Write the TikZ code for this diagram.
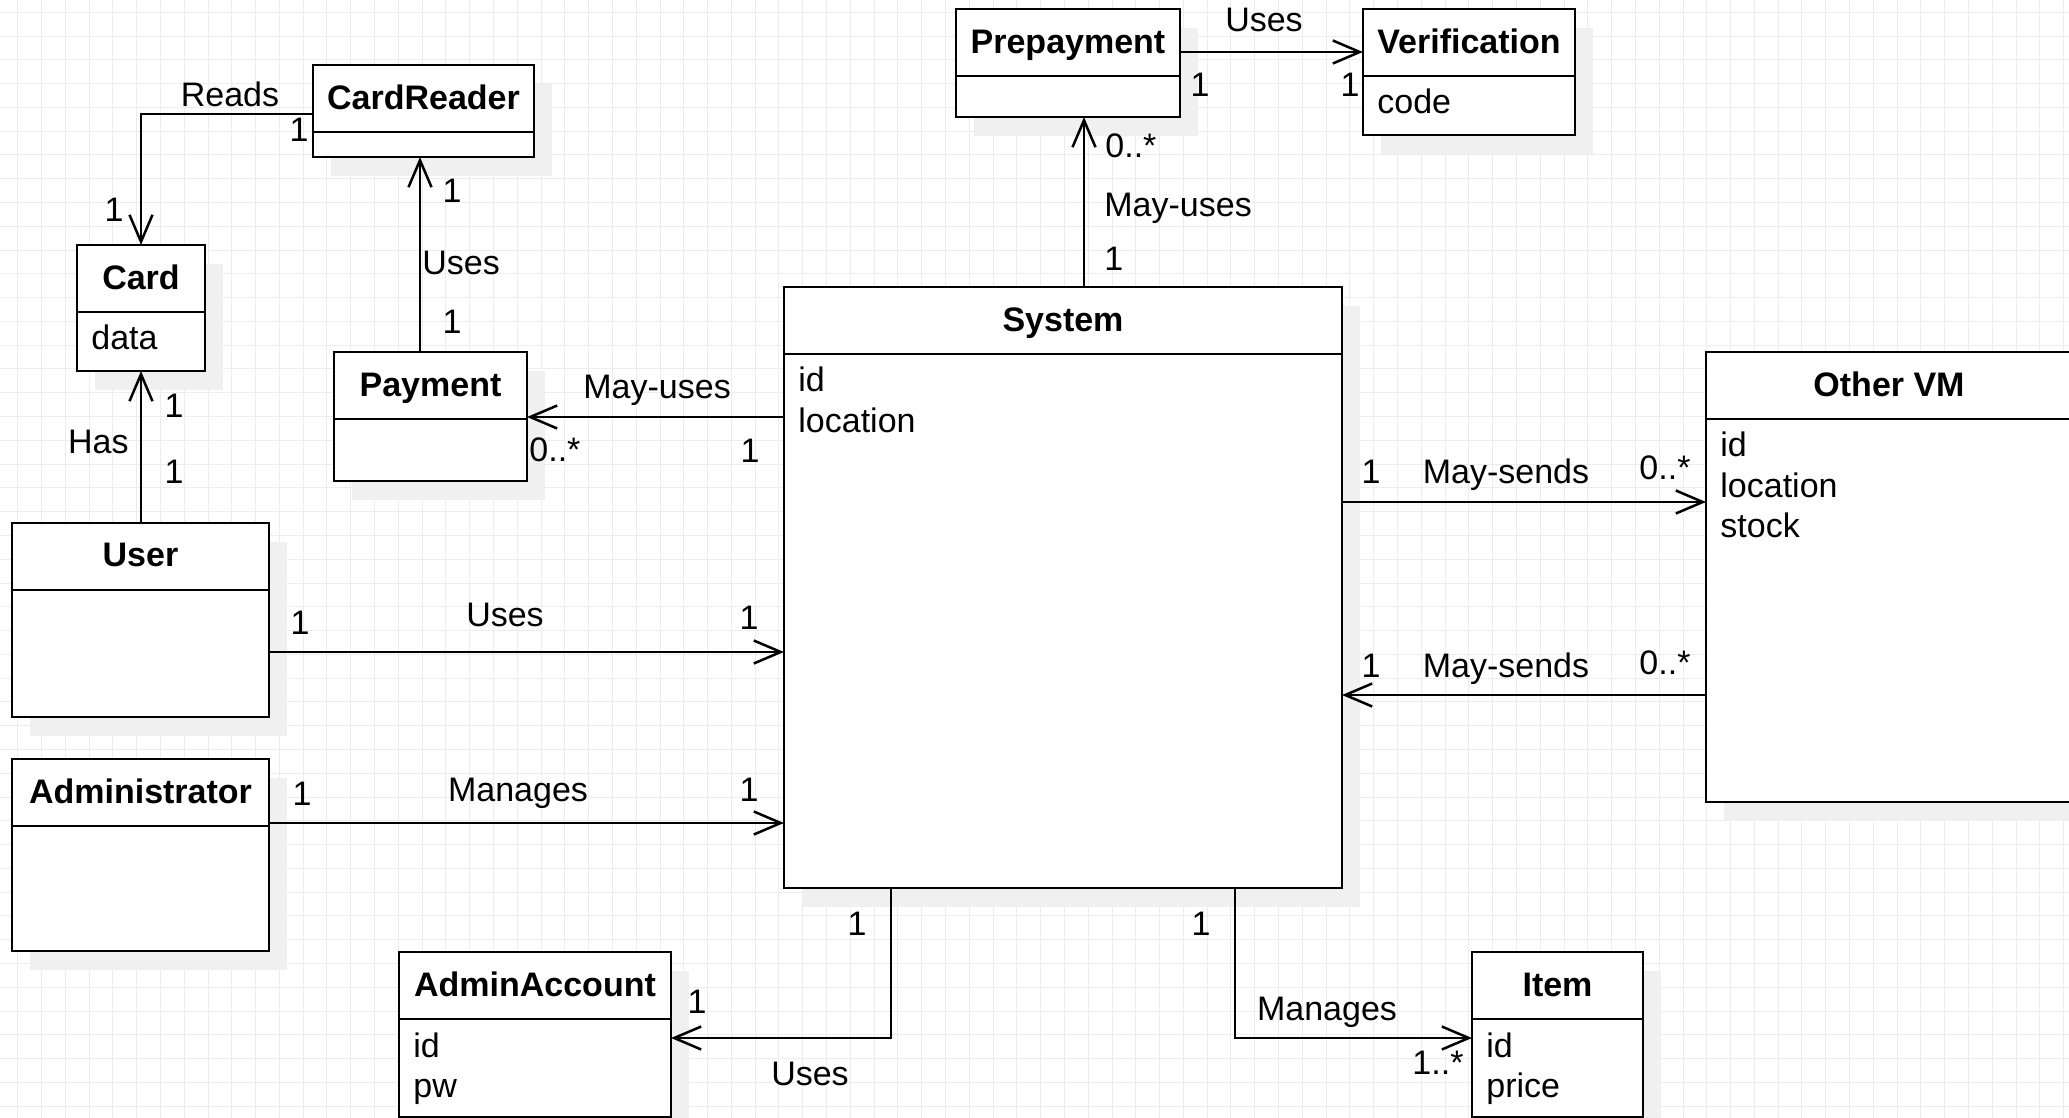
\documentclass[tikz,border=0pt]{standalone}
\usepackage{fontspec}
\setmainfont{Liberation Sans}
\usetikzlibrary{arrows.meta}
\usetikzlibrary{shadows}
\usetikzlibrary{fit}

\begin{document}
\begin{tikzpicture}
[x=0.5pt,y=-0.5pt,%
  every node/.style={font=\fontsize{17pt}{20pt}\selectfont,inner sep=0pt},%
  cls/.style={draw,line width=1.25pt,fill=white,inner sep=0pt,outer sep=0pt,
    drop shadow={shadow xshift=9pt,shadow yshift=-9.5pt,fill=black!6,opacity=1}},%
  sep/.style={line width=1.25pt},%
  ttl/.style={anchor=base,font=\fontsize{17pt}{20pt}\selectfont\bfseries},%
  attr/.style={anchor=base west},%
  lbl/.style={anchor=base},%
  gridline/.style={line width=0.5pt,black!7},%
  assoc/.style={line width=1.25pt,-{Straight Barb[length=13.5pt,width=11.5pt]}}]
\useasboundingbox (0,0) rectangle (2069,1118);
\clip (0,0) rectangle (2069,1118);
\fill[white] (0,0) rectangle (2069,1118);
\foreach \i in {0,...,86}
  \draw[gridline] ({17.7+23.79*\i},0) -- ({17.7+23.79*\i},1118);
\foreach \j in {0,...,46}
  \draw[gridline] (0,{12.3+23.78*\j}) -- (2069,{12.3+23.78*\j});
%% classes
\node[cls,fit={(313,65) (534,157)}] (CardReader) {};
\draw[sep] ([yshift=-33.5pt]CardReader.north west) -- ([yshift=-33.5pt]CardReader.north east);
\node[ttl] (CardReaderT) at ([yshift=-22.5pt]CardReader.north) {CardReader};
%%
\node[cls,fit={(77,245) (205,371)}] (Card) {};
\draw[sep] ([yshift=-33.5pt]Card.north west) -- ([yshift=-33.5pt]Card.north east);
\node[ttl] (CardT) at ([yshift=-22.25pt]Card.north) {Card};
\node[attr] (CardData) at ([xshift=7pt,yshift=-52.5pt]Card.north west) {data};
%%
\node[cls,fit={(334,352) (527,481)}] (Payment) {};
\draw[sep] ([yshift=-33.5pt]Payment.north west) -- ([yshift=-33.5pt]Payment.north east);
\node[ttl] (PaymentT) at ([yshift=-22.25pt]Payment.north) {Payment};
%%
\node[cls,fit={(956,9) (1180,117)}] (Prepayment) {};
\draw[sep] ([yshift=-33.5pt]Prepayment.north west) -- ([yshift=-33.5pt]Prepayment.north east);
\node[ttl] (PrepaymentT) at ([yshift=-22.25pt]Prepayment.north) {Prepayment};
%%
\node[cls,fit={(1363,9) (1575,135)}] (Verification) {};
\draw[sep] ([yshift=-33.5pt]Verification.north west) -- ([yshift=-33.5pt]Verification.north east);
\node[ttl] (VerificationT) at ([yshift=-22.25pt]Verification.north) {Verification};
\node[attr] (VerificationCode) at ([xshift=7pt,yshift=-52.5pt]Verification.north west) {code};
%%
\node[cls,fit={(784,287) (1342,888)}] (System) {};
\draw[sep] ([yshift=-33.5pt]System.north west) -- ([yshift=-33.5pt]System.north east);
\node[ttl] (SystemT) at ([yshift=-22.5pt]System.north) {System};
\node[attr] (SystemId) at ([xshift=7pt,yshift=-52.5pt]System.north west) {id};
\node[attr] (SystemLoc) at ([xshift=7pt,yshift=-72.75pt]System.north west) {location};
%%
\node[cls,fit={(1706,352) (2072,802)}] (OtherVM) {};
\draw[sep] ([yshift=-33.5pt]OtherVM.north west) -- ([yshift=-33.5pt]OtherVM.north east);
\node[ttl] (OtherVMT) at ([yshift=-22.25pt]OtherVM.north) {Other VM};
\node[attr] (OtherVMId) at ([xshift=7pt,yshift=-52.5pt]OtherVM.north west) {id};
\node[attr] (OtherVMLoc) at ([xshift=7pt,yshift=-72.75pt]OtherVM.north west) {location};
\node[attr] (OtherVMStock) at ([xshift=7pt,yshift=-93pt]OtherVM.north west) {stock};
%%
\node[cls,fit={(12,523) (269,717)}] (User) {};
\draw[sep] ([yshift=-33.5pt]User.north west) -- ([yshift=-33.5pt]User.north east);
\node[ttl] (UserT) at ([yshift=-22pt]User.north) {User};
%%
\node[cls,fit={(12,759) (269,951)}] (Administrator) {};
\draw[sep] ([yshift=-33.5pt]Administrator.north west) -- ([yshift=-33.5pt]Administrator.north east);
\node[ttl] (AdministratorT) at ([yshift=-22pt]Administrator.north) {Administrator};
%%
\node[cls,fit={(399,952) (671,1117)}] (AdminAccount) {};
\draw[sep] ([yshift=-33.5pt]AdminAccount.north west) -- ([yshift=-33.5pt]AdminAccount.north east);
\node[ttl] (AdminAccountT) at ([yshift=-22.25pt]AdminAccount.north) {AdminAccount};
\node[attr] (AdminAccountId) at ([xshift=7pt,yshift=-52.5pt]AdminAccount.north west) {id};
\node[attr] (AdminAccountPw) at ([xshift=7pt,yshift=-72.75pt]AdminAccount.north west) {pw};
%%
\node[cls,fit={(1472,952) (1643,1117)}] (Item) {};
\draw[sep] ([yshift=-33.5pt]Item.north west) -- ([yshift=-33.5pt]Item.north east);
\node[ttl] (ItemT) at ([yshift=-22.25pt]Item.north) {Item};
\node[attr] (ItemId) at ([xshift=7pt,yshift=-52.5pt]Item.north west) {id};
\node[attr] (ItemPrice) at ([xshift=7pt,yshift=-72.75pt]Item.north west) {price};
%% associations
\draw[assoc] (CardReader.west |- 0,114) -| (Card.north);
\draw[assoc] (Payment.north -| 420,0) -- (CardReader.south -| 420,0);
\draw[assoc] (User.north -| Card.south) -- (Card.south);
\draw[assoc] (System.west |- 0,417) -- (Payment.east |- 0,417);
\draw[assoc] (System.north -| 1084,0) -- (Prepayment.south -| 1084,0);
\draw[assoc] (Prepayment.east |- 0,52) -- (Verification.west |- 0,52);
\draw[assoc] (System.east |- 0,502) -- (OtherVM.west |- 0,502);
\draw[assoc] (OtherVM.west |- 0,695) -- (System.east |- 0,695);
\draw[assoc] (User.east |- 0,652) -- (System.west |- 0,652);
\draw[assoc] (Administrator.east |- 0,823) -- (System.west |- 0,823);
\draw[assoc] (System.south -| 891,0) |- (AdminAccount.east |- 0,1038);
\draw[assoc] (System.south -| 1235,0) |- (Item.west |- 0,1038);
%% labels
\node[lbl] (ReadsL) at (230,107) {Reads};
\node[lbl] (ReadsA) at (299,142) {1};
\node[lbl] (ReadsB) at (114,222) {1};
\node[lbl] (PayUsesA) at (452,203) {1};
\node[attr] (PayUsesL) at (422,275) {Uses};
\node[lbl] (PayUsesB) at (452,334) {1};
\node[lbl] (HasA) at (174,418) {1};
\node[anchor=base east] (HasL) at (129,453) {Has};
\node[lbl] (HasB) at (174,484) {1};
\node[attr] (MayPayL) at (583,399) {May-uses};
\node[attr] (MayPayA) at (529,461) {0..*};
\node[lbl] (MayPayB) at (750,463) {1};
\node[attr] (MayPreA) at (1105,158) {0..*};
\node[attr] (MayPreL) at (1104,217) {May-uses};
\node[attr] (MayPreB) at (1104,271) {1};
\node[lbl] (VerUsesL) at (1264,32) {Uses};
\node[lbl] (VerUsesA) at (1200,97) {1};
\node[lbl] (VerUsesB) at (1350,97) {1};
\node[lbl] (SendOutA) at (1371,484) {1};
\node[lbl] (SendOutL) at (1506,484) {May-sends};
\node[lbl] (SendOutB) at (1665,480) {0..*};
\node[lbl] (SendInA) at (1371,677) {1};
\node[lbl] (SendInL) at (1506,677) {May-sends};
\node[lbl] (SendInB) at (1665,674) {0..*};
\node[lbl] (UserUsesA) at (300,634) {1};
\node[lbl] (UserUsesL) at (505,626) {Uses};
\node[lbl] (UserUsesB) at (749,629) {1};
\node[lbl] (AdminManA) at (302,805) {1};
\node[lbl] (AdminManL) at (518,801) {Manages};
\node[lbl] (AdminManB) at (749,801) {1};
\node[lbl] (AccUsesA) at (857,935) {1};
\node[lbl] (AccUsesB) at (697,1013) {1};
\node[lbl] (AccUsesL) at (810,1085) {Uses};
\node[lbl] (ItemManA) at (1201,935) {1};
\node[lbl] (ItemManL) at (1327,1020) {Manages};
\node[lbl] (ItemManB) at (1438,1074) {1..*};
\end{tikzpicture}
\end{document}
